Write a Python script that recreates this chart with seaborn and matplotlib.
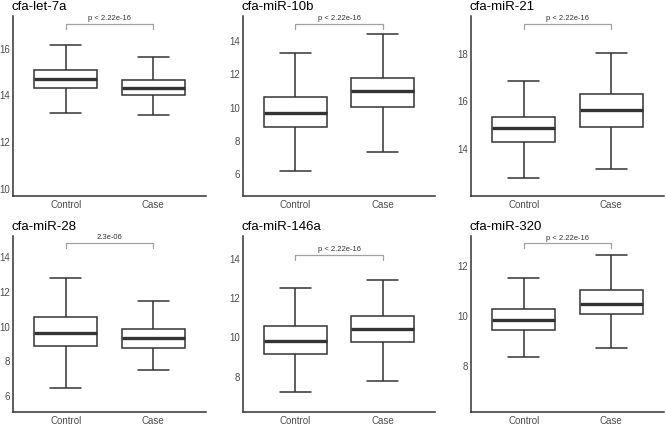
import numpy as np
import pandas as pd
import seaborn as sns
import matplotlib.pyplot as plt

mirnas = ["cfa-let-7a", "cfa-miR-10b", "cfa-miR-21", "cfa-miR-28", "cfa-miR-146a", "cfa-miR-320"]
groups = ["Control", "Case"]

# five-number summaries: whisker low, Q1, median, Q3, whisker high
control_stats = [
    [13.26, 14.33, 14.71, 15.08, 16.18],
    [6.20, 8.84, 9.68, 10.62, 13.26],
    [12.77, 14.26, 14.88, 15.33, 16.85],
    [6.45, 8.88, 9.64, 10.55, 12.77],
    [7.22, 9.17, 9.82, 10.55, 12.50],
    [8.37, 9.45, 9.84, 10.26, 11.50],
]
case_stats = [
    [13.16, 14.00, 14.30, 14.68, 15.65],
    [7.36, 10.04, 11.02, 11.80, 14.44],
    [13.14, 14.93, 15.64, 16.29, 18.03],
    [7.53, 8.79, 9.34, 9.87, 11.49],
    [7.77, 9.77, 10.43, 11.07, 12.92],
    [8.70, 10.07, 10.49, 11.03, 12.42],
]
p_labels = ["p < 2.22e-16", "p < 2.22e-16", "p < 2.22e-16", "2.3e-06", "p < 2.22e-16", "p < 2.22e-16"]
bracket_y = [17.06, 15.04, 19.28, 14.80, 14.20, 12.90]
y_limits = [(9.7, 17.4), (4.7, 15.5), (12.0, 19.6), (5.1, 15.2), (6.2, 15.15), (6.15, 13.2)]
y_ticks = [[10, 12, 14, 16], [6, 8, 10, 12, 14], [14, 16, 18], [6, 8, 10, 12, 14], [8, 10, 12, 14], [8, 10, 12]]

sns.set_theme(style="white")
plt.rcParams["font.family"] = ["Liberation Sans", "DejaVu Sans"]

fig = plt.figure(figsize=(6.66, 4.29), dpi=100)

W, H = 666.0, 429.0
# left/right pixel edges per column, top/bottom per row
cols = [(13, 206), (243, 435), (471, 664), (13, 206), (243, 435), (471, 664)]
rows = [(16, 196), (16, 196), (16, 196), (236, 412), (236, 412), (236, 412)]

for i, name in enumerate(mirnas):
    x0, x1 = cols[i]
    t, b = rows[i]
    ax = fig.add_axes([x0 / W, 1 - b / H, (x1 - x0) / W, (b - t) / H])

    df = pd.DataFrame({
        "group": ["Control"] * 5 + ["Case"] * 5,
        "value": control_stats[i] + case_stats[i],
    })
    sns.boxplot(data=df, x="group", y="value", order=groups, ax=ax,
                whis=np.inf, width=0.72, color="white", linecolor="#333333",
                linewidth=1.1, medianprops={"linewidth": 2.4, "color": "#333333"})

    ax.set_xlim(-0.6, 1.6)
    ax.set_ylim(*y_limits[i])
    ax.set_yticks(y_ticks[i])
    ax.set_xlabel("")
    ax.set_ylabel("")
    ax.tick_params(axis="both", length=0, labelsize=7, colors="#4d4d4d", pad=2)
    ax.tick_params(axis="x", pad=3)
    for s in ["top", "right"]:
        ax.spines[s].set_visible(False)
    for s in ["left", "bottom"]:
        ax.spines[s].set_color("#333333")
        ax.spines[s].set_linewidth(1.1)

    # significance bracket
    yb = bracket_y[i]
    drop = (y_limits[i][1] - y_limits[i][0]) * 0.028
    ax.plot([0, 0, 1, 1], [yb - drop, yb, yb, yb - drop], color="#a0a0a0", lw=0.9, clip_on=False)
    ax.text(0.5, yb + drop * 0.3, p_labels[i], ha="center", va="bottom", fontsize=5.5, color="#333333")

    ax.set_title(name, loc="left", fontsize=9.5, color="black", pad=4, x=-0.01)

fig.savefig("out.png", dpi=100)
